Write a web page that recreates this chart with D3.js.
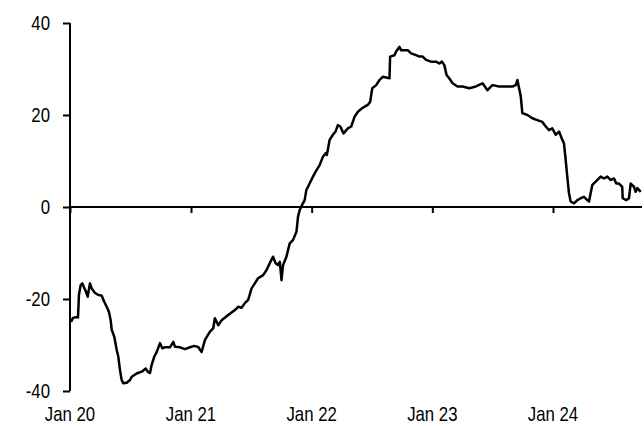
<!DOCTYPE html>
<html>
<head>
<meta charset="utf-8">
<script src="https://cdn.jsdelivr.net/npm/d3@7"></script>
<style>
  html, body { margin: 0; padding: 0; background: #fff; }
  svg { display: block; }
  text { font-family: "Liberation Sans", Arial, sans-serif; fill: #000; }
</style>
</head>
<body>
<svg id="chart" width="644" height="426"></svg>
<script>
// Decimal-year timestamps
const times = [
  2020.008, 2020.025, 2020.058, 2020.066, 2020.074, 2020.088, 2020.102, 2020.118, 2020.132, 2020.146,
  2020.165, 2020.179, 2020.207, 2020.234, 2020.262, 2020.283, 2020.303, 2020.322, 2020.336, 2020.345,
  2020.366, 2020.386, 2020.399, 2020.413, 2020.427, 2020.440, 2020.469, 2020.496, 2020.510, 2020.551,
  2020.593, 2020.626, 2020.642, 2020.661, 2020.675, 2020.697, 2020.717, 2020.744, 2020.763, 2020.785,
  2020.826, 2020.854, 2020.868, 2020.909, 2020.950, 2020.992, 2021.027, 2021.058, 2021.088, 2021.116,
  2021.157, 2021.184, 2021.198, 2021.226, 2021.254, 2021.308, 2021.364, 2021.391, 2021.419, 2021.446,
  2021.474, 2021.502, 2021.529, 2021.556, 2021.598, 2021.626, 2021.653, 2021.680, 2021.700, 2021.721,
  2021.736, 2021.750, 2021.763, 2021.791, 2021.818, 2021.845, 2021.874, 2021.887, 2021.901, 2021.920,
  2021.942, 2021.956, 2021.983, 2022.011, 2022.033, 2022.066, 2022.093, 2022.116, 2022.126, 2022.149,
  2022.176, 2022.198, 2022.217, 2022.237, 2022.264, 2022.300, 2022.328, 2022.355, 2022.383, 2022.419,
  2022.465, 2022.485, 2022.502, 2022.535, 2022.562, 2022.589, 2022.645, 2022.650, 2022.686, 2022.700,
  2022.727, 2022.741, 2022.769, 2022.796, 2022.824, 2022.865, 2022.893, 2022.920, 2022.948, 2022.989,
  2023.031, 2023.058, 2023.080, 2023.099, 2023.118, 2023.140, 2023.168, 2023.209, 2023.250, 2023.306,
  2023.361, 2023.416, 2023.457, 2023.498, 2023.554, 2023.609, 2023.664, 2023.692, 2023.705, 2023.719,
  2023.733, 2023.746, 2023.788, 2023.829, 2023.870, 2023.912, 2023.940, 2023.967, 2023.994, 2024.022,
  2024.050, 2024.077, 2024.091, 2024.105, 2024.118, 2024.132, 2024.146, 2024.174, 2024.201, 2024.229,
  2024.256, 2024.283, 2024.298, 2024.311, 2024.325, 2024.353, 2024.394, 2024.421, 2024.449, 2024.476,
  2024.504, 2024.523, 2024.545, 2024.572, 2024.576, 2024.605, 2024.628, 2024.642, 2024.669, 2024.683,
  2024.697, 2024.725
];
const values = [
  -25.0, -24.1, -23.9, -24.0, -19.1, -17.0, -16.6, -17.6, -18.4, -19.5,
  -16.6, -17.7, -18.7, -19.1, -19.3, -20.6, -21.7, -22.8, -24.6, -26.7,
  -28.2, -31.1, -32.5, -35.4, -37.6, -38.3, -38.2, -37.6, -36.9, -36.2,
  -35.8, -35.1, -35.8, -36.1, -34.3, -32.5, -31.5, -29.6, -30.7, -30.5,
  -30.5, -29.3, -30.4, -30.5, -30.9, -30.5, -30.2, -30.4, -31.5, -28.9,
  -27.1, -26.4, -24.2, -25.7, -24.6, -23.5, -22.4, -21.7, -21.9, -20.9,
  -20.2, -17.7, -16.6, -15.5, -14.8, -13.7, -12.2, -10.8, -12.2, -12.6,
  -11.9, -15.9, -12.6, -10.8, -7.9, -7.2, -5.4, -2.1, -0.65, 0.4,
  1.5, 3.7, 5.1, 6.6, 7.7, 9.1, 10.9, 11.7, 11.3, 14.6,
  15.7, 16.4, 17.8, 17.5, 16.0, 17.1, 17.5, 19.6, 20.7, 21.5,
  22.2, 22.9, 25.8, 26.5, 27.6, 28.3, 28.0, 32.7, 33.0, 33.8,
  34.8, 34.1, 34.1, 34.1, 33.4, 33.0, 32.7, 32.7, 32.0, 31.6,
  31.6, 31.2, 31.6, 30.9, 28.7, 28.0, 26.9, 26.2, 26.2, 25.8,
  26.2, 26.9, 25.4, 26.5, 26.2, 26.2, 26.2, 26.5, 27.6, 25.8,
  24.0, 20.4, 20.0, 19.3, 18.9, 18.5, 17.5, 16.7, 17.1, 15.7,
  16.4, 14.6, 13.8, 10.2, 6.6, 3.0, 1.2, 0.8, 1.5, 1.9,
  2.2, 1.5, 1.2, 3.0, 4.8, 5.5, 6.6, 6.2, 6.6, 5.9,
  6.2, 5.1, 5.1, 4.4, 1.9, 1.5, 1.9, 5.1, 4.4, 3.3,
  4.1, 3.3
];
const xTickYears = [2020, 2021, 2022, 2023, 2024];
const xTickLabels = ["Jan 20", "Jan 21", "Jan 22", "Jan 23", "Jan 24"];
const yTicks = [-40, -20, 0, 20, 40];

function toDate(t) {
  const y = Math.floor(t);
  const start = new Date(y, 0, 1).getTime();
  const end = new Date(y + 1, 0, 1).getTime();
  return new Date(start + (t - y) * (end - start));
}

const data = times.map((t, i) => ({ date: toDate(t), value: values[i] }));

const svg = d3.select("#chart");
const x = d3.scaleTime()
  .domain([new Date(2020, 0, 1), new Date(2024, 0, 1)])
  .range([70, 553]);
const y = d3.scaleLinear().domain([-40, 40]).range([391, 23]);
const xEnd = 642;
const SX = 0.84; // horizontal condensation of the label font

// Y axis
const yAxis = svg.append("g")
  .attr("transform", `translate(${x(new Date(2020,0,1))},0)`)
  .call(d3.axisLeft(y).tickValues(yTicks).tickSize(7).tickPadding(0).tickFormat(""));
yAxis.selectAll("path, line").attr("stroke", "#000").attr("stroke-width", 2);
yAxis.select("path").attr("d", `M0,${y(40)}V${y(-40)}`);

// Y labels
svg.append("g").selectAll("text").data(yTicks).join("text")
  .attr("transform", d => `translate(50,${y(d)}) scale(${SX},1)`)
  .attr("text-anchor", "end")
  .attr("dy", "0.36em")
  .attr("font-size", 20)
  .text(d => d);

// X axis at zero
const xAxis = svg.append("g")
  .attr("transform", `translate(0,${y(0)})`)
  .call(d3.axisBottom(x).tickValues(xTickYears.map(yr => new Date(yr, 0, 1))).tickSize(6).tickSizeOuter(0).tickFormat(""));
xAxis.selectAll("path, line").attr("stroke", "#000").attr("stroke-width", 2);
xAxis.select("path").attr("d", `M${x(new Date(2020,0,1))},0H${xEnd}`);

// X labels at bottom
svg.append("g").selectAll("text").data(xTickYears).join("text")
  .attr("transform", (d, i) => `translate(${x(new Date(d, 0, 1))},421) scale(${SX},1)`)
  .attr("text-anchor", "middle")
  .attr("font-size", 20)
  .text((d, i) => xTickLabels[i]);

// Line
svg.append("path")
  .datum(data)
  .attr("fill", "none")
  .attr("stroke", "#000")
  .attr("stroke-width", 2.5)
  .attr("stroke-linejoin", "round")
  .attr("d", d3.line().x(d => x(d.date)).y(d => y(d.value)));
</script>
</body>
</html>
